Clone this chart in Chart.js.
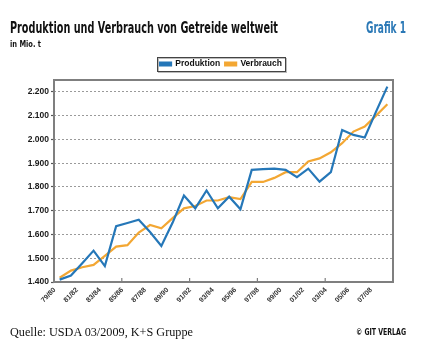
<!DOCTYPE html>
<html><head><meta charset="utf-8">
<script src="https://cdn.jsdelivr.net/npm/chart.js@4/dist/chart.umd.min.js"></script>
<style>
html,body{margin:0;padding:0;background:#fff;}
#wrap{position:relative;width:425px;height:356px;overflow:hidden;background:#fff;}
#c{position:absolute;left:0;top:0;}
.t{position:absolute;white-space:nowrap;transform-origin:0 0;line-height:1;}
#title{left:10px;top:20.5px;font-weight:bold;font-size:15px;font-family:'DejaVu Sans Condensed','Liberation Sans',sans-serif;color:#111;}
#grafik{left:366px;top:20.5px;font-weight:bold;font-size:15px;font-family:'DejaVu Sans Condensed','Liberation Sans',sans-serif;color:#2a78b6;}
#unit{left:10px;top:39.5px;font-weight:bold;font-size:9px;font-family:'DejaVu Sans Condensed','Liberation Sans',sans-serif;color:#111;}
#src{left:10px;top:324.8px;font-size:13px;font-family:'Liberation Serif','DejaVu Serif',serif;color:#111;}
#copy{left:356px;top:328px;font-weight:bold;font-size:8.5px;font-family:'DejaVu Sans Condensed','Liberation Sans',sans-serif;color:#111;}
</style></head>
<body>
<div id="wrap">
<canvas id="c" width="425" height="356" style="width:425px;height:356px"></canvas>
<div class="t" id="title">Produktion und Verbrauch von Getreide weltweit</div>
<div class="t" id="grafik">Grafik 1</div>
<div class="t" id="unit">in Mio. t</div>
<div class="t" id="src">Quelle: USDA 03/2009, K+S Gruppe</div>
<div class="t" id="copy">© GIT VERLAG</div>
</div>
<script>
// ---- data ----
const seasons = ["79/80","80/81","81/82","82/83","83/84","84/85","85/86","86/87","87/88","88/89",
                 "89/90","90/91","91/92","92/93","93/94","94/95","95/96","96/97","97/98","98/99",
                 "99/00","00/01","01/02","02/03","03/04","04/05","05/06","06/07","07/08","08/09"];
const produktion = [1410,1427,1479,1532,1467,1635,1648,1662,1610,1552,
                    1650,1764,1710,1785,1710,1759,1706,1872,1875,1877,
                    1872,1841,1877,1822,1862,2040,2019,2008,2117,2222];
const verbrauch  = [1418,1448,1462,1472,1510,1549,1555,1608,1640,1626,
                    1669,1710,1720,1743,1743,1757,1749,1821,1821,1838,
                    1862,1862,1907,1920,1946,1984,2033,2054,2100,2148];
const yTicks = [1400,1500,1600,1700,1800,1900,2000,2100,2200];
const seriesNames = ["Produktion","Verbrauch"];

const BLUE = '#2577b8', ORANGE = '#f3a733';
const SANS = "'Liberation Sans',Arial,sans-serif";

function fmt(v){ return String(v).replace(/\B(?=(\d{3})+(?!\d))/g,'.'); }

function fitText(id, w){
  const el = document.getElementById(id);
  const r = el.getBoundingClientRect();
  el.style.transform = 'scaleX(' + (w / r.width) + ')';
}
fitText('title', 268);
fitText('grafik', 40);
fitText('unit', 31);
fitText('src', 183);
fitText('copy', 50);

const framePlugin = {
  id: 'frame',
  afterLayout(chart){
    // centre the legend over the plot region and lift it slightly
    const lg = chart.legend;
    if (lg) { lg.left += 49; lg.top -= 1.75; lg.bottom -= 1.75; }
  },
  beforeDatasetsDraw(chart){
    const {ctx, chartArea: a, scales: {x}} = chart;
    ctx.save();
    ctx.strokeStyle = '#7f7f7f';
    ctx.lineWidth = 2;
    ctx.strokeRect(a.left, a.top, a.right - a.left, a.bottom - a.top);
    ctx.lineWidth = 1.2;
    [5, 11, 17, 23].forEach(i => {
      const px = (x.getPixelForValue(i) + x.getPixelForValue(i + 1)) / 2;
      ctx.beginPath(); ctx.moveTo(px, a.bottom); ctx.lineTo(px, a.bottom - 4); ctx.stroke();
    });
    ctx.restore();
  },
  afterDraw(chart){
    const lg = chart.legend;
    if (!lg || !lg.legendHitBoxes || !lg.legendHitBoxes.length) return;
    const hb = lg.legendHitBoxes;
    let l = Infinity, r = -Infinity, t = Infinity, b = -Infinity;
    hb.forEach(h => { l = Math.min(l, h.left); r = Math.max(r, h.left + h.width); t = Math.min(t, h.top); b = Math.max(b, h.top + h.height); });
    const ctx = chart.ctx;
    ctx.save();
    ctx.strokeStyle = '#bbb'; ctx.lineWidth = 1;
    ctx.strokeRect(Math.round(l - 3) + 1.5, Math.round(t - 3) + 1.5, Math.round(r - l + 6), Math.round(b - t + 5));
    ctx.strokeStyle = '#444';
    ctx.strokeRect(Math.round(l - 3) + 0.5, Math.round(t - 3) + 0.5, Math.round(r - l + 6), Math.round(b - t + 5));
    ctx.restore();
  }
};

new Chart(document.getElementById('c'), {
  type: 'line',
  data: {
    labels: seasons,
    datasets: [
      {label: seriesNames[0], data: produktion, borderColor: BLUE, backgroundColor: BLUE, borderWidth: 2.2, pointRadius: 0, tension: 0},
      {label: seriesNames[1], data: verbrauch, borderColor: ORANGE, backgroundColor: ORANGE, borderWidth: 2.2, pointRadius: 0, tension: 0}
    ]
  },
  options: {
    responsive: false,
    animation: false,
    layout: {padding: {left: 0, right: 32, top: 56.5, bottom: 40}},
    plugins: {
      tooltip: {enabled: false},
      legend: {
        position: 'top',
        labels: {
          boxWidth: 11, boxHeight: 3, padding: 5, color: '#111',
          font: {family: SANS, size: 8.5, weight: 'bold'}
        }
      }
    },
    scales: {
      x: {
        type: 'category',
        offset: true,
        afterFit(s){ s.height = 34; },
        grid: {display: false, drawTicks: false},
        border: {display: false},
        ticks: {
          autoSkip: false, maxRotation: 45, minRotation: 45, padding: 4, labelOffset: -5,
          color: '#333', font: {family: SANS, size: 7, weight: 'bold'},
          callback: (v, i) => (i % 2 === 0 ? seasons[i] : '')
        }
      },
      y: {
        min: 1400, max: 2250,
        afterFit(s){ s.width = 54; },
        afterBuildTicks(s){ s.ticks = yTicks.map(v => ({value: v})); },
        grid: {
          color: c => (c.tick && c.tick.value === 1400 ? 'rgba(0,0,0,0)' : '#9a9a9a'),
          lineWidth: 1, tickLength: 3, tickColor: '#555', tickWidth: 1.2, tickBorderDash: [], borderDash: [2, 2]
        },
        border: {display: false, dash: [2, 2]},
        ticks: {
          padding: 2, color: '#1a1a1a',
          font: {family: SANS, size: 8.5, weight: 'bold'},
          callback: v => fmt(v)
        }
      }
    }
  },
  plugins: [framePlugin]
});
</script>
</body></html>
